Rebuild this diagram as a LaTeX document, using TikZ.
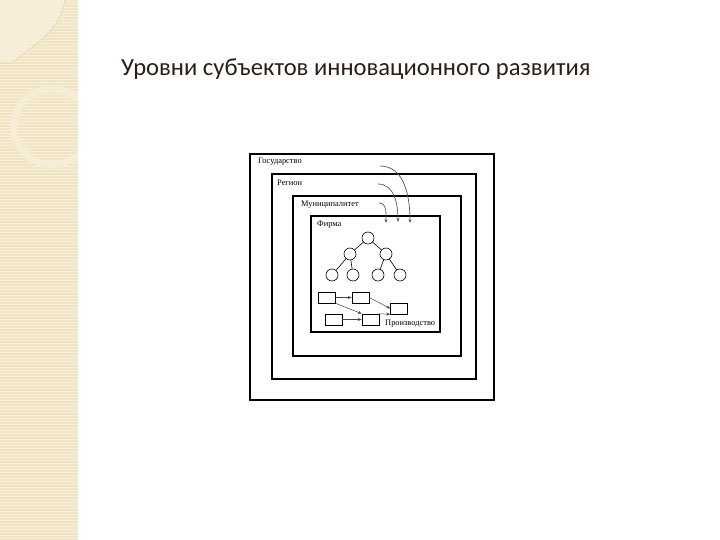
\documentclass[tikz,border=0pt]{standalone}
\usepackage{fontspec}
\setmainfont{Liberation Serif}
\newfontfamily\titlefont{Carlito}
\usetikzlibrary{arrows.meta}

\definecolor{stripbg}{HTML}{F1E4C3}
\definecolor{stripline}{HTML}{F8F0DC}
\definecolor{stripdeco}{HTML}{F6EDD6}
\definecolor{stripedge}{HTML}{E4D3AC}
\definecolor{titleink}{HTML}{2A1F18}
\definecolor{arcink}{HTML}{555555}
\definecolor{flowink}{HTML}{444444}

\tikzset{
  levelbox/.style={draw=black, line width=1.1pt},
  levellabel/.style={anchor=west, font=\fontsize{8.4}{10}\selectfont, inner sep=0pt},
  treenode/.style={draw, circle, minimum size=12pt, inner sep=0pt, line width=0.6pt},
  treeedge/.style={line width=0.6pt},
  stepbox/.style={draw, minimum width=17pt, minimum height=11pt, inner sep=0pt, line width=0.6pt},
  flow/.style={-{Stealth[length=4pt,width=3pt]}, draw=flowink, line width=0.5pt},
  pull/.style={-{Stealth[length=4pt,width=3pt]}, draw=arcink, line width=0.7pt}
}

\begin{document}
\begin{tikzpicture}[x=1pt, y=-1pt]
\useasboundingbox (0,0) rectangle (720,540);

\def \stripw {78}

% left strip
\fill[stripbg] (0,0) rectangle (\stripw,540);
\fill[stripdeco] (0,0) -- (65,0) to [out=260, in=40] (12,63) -- (0,63) -- cycle;
\foreach \yy in {1.5,4.5,...,540}
  \draw[stripline, line width=0.6pt] (0,\yy) -- (\stripw,\yy);
\draw[stripedge, line width=0.6pt] (65,0) to [out=260, in=40] (12,63) -- (0,63);
\begin{scope}
\clip (0,0) rectangle (\stripw,540);
\draw[stripdeco, line width=7pt] (52,127) circle (38);
\end{scope}

% title
\node [anchor=base west, text=titleink, font=\titlefont\fontsize{24.6}{28}\selectfont, inner sep=0pt]
  (title) at (121,76) {Уровни субъектов инновационного развития};

% nested levels
\draw[levelbox] (250,154) rectangle (494,400);
\draw[levelbox] (272,174) rectangle (476,379);
\draw[levelbox] (293,196) rectangle (461,356);
\draw[levelbox] (311,216) rectangle (440,332);

\node [levellabel] (gos) at (258,162) {Государство};
\node [levellabel] (reg) at (277,183) {Регион};
\node [levellabel] (mun) at (301,205) {Муниципалитет};
\node [levellabel] (firm) at (317,225) {Фирма};

% influence arcs
\coordinate (s1) at (380,166);
\coordinate (e1) at (410,223);
\coordinate (s2) at (378,184);
\coordinate (e2) at (398,222);
\coordinate (s3) at (379,203);
\coordinate (e3) at (386,223);
\draw[pull] (s1) to [out=0, in=90] (e1);
\draw[pull] (s2) to [out=0, in=90] (e2);
\draw[pull] (s3) to [out=0, in=90] (e3);

% hierarchy
\node [treenode] (n0)  at (368,238) {};
\node [treenode] (n1)  at (350,254) {};
\node [treenode] (n2)  at (386,254) {};
\node [treenode] (n11) at (332,275) {};
\node [treenode] (n12) at (353,275) {};
\node [treenode] (n21) at (378,275) {};
\node [treenode] (n22) at (400,275) {};
\draw[treeedge] (n0) -- (n1);
\draw[treeedge] (n0) -- (n2);
\draw[treeedge] (n1) -- (n11);
\draw[treeedge] (n1) -- (n12);
\draw[treeedge] (n2) -- (n21);
\draw[treeedge] (n2) -- (n22);

% production chain
\node [stepbox] (pa) at (327,297.5) {};
\node [stepbox] (pb) at (360.5,297.5) {};
\node [stepbox] (pc) at (399,308.5) {};
\node [stepbox] (pd) at (333.5,319.5) {};
\node [stepbox] (pe) at (370.5,319.5) {};
\draw[flow] (pa) -- (pb);
\draw[flow] (pa.south east) -- (pe.north west);
\draw[flow] (pb.east) -- (pc.west);
\draw[flow] (pd) -- (pe);
\draw[flow] (pe.north east) -- (pc.south west);
\node [levellabel] (prod) at (385,324) {Производство};

\end{tikzpicture}
\end{document}
